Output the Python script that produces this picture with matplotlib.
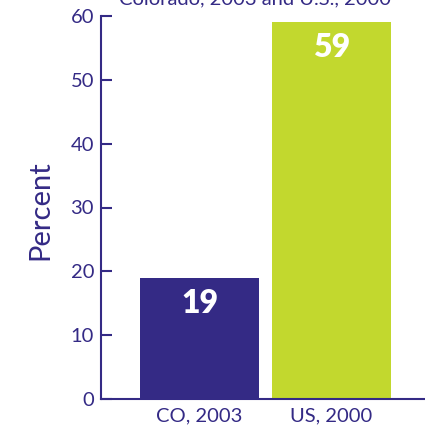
import matplotlib.pyplot as plt

# values
categories = ["CO, 2003", "US, 2000"]
percent = [19, 59]
bar_colors = ["#342a85", "#c2d82e"]
yticks = [0, 10, 20, 30, 40, 50, 60]

ink = "#342a85"
plt.rcParams["font.family"] = ["Lato", "DejaVu Sans"]

fig = plt.figure(figsize=(4.25, 4.28), dpi=100)
ax = fig.add_axes([101 / 425, 29 / 428, 1 - 101 / 425, (399 - 16) / 428])

pos = list(range(len(categories)))
ax.bar(pos, percent, width=0.9, color=bar_colors)
for x, v in zip(pos, percent):
    ax.text(x, v - 4, str(v), ha="center", va="center", color="white",
            fontsize=23, fontweight="heavy")

ax.set_xlim(-0.746, 1.708)
ax.set_ylim(0, 60)
ax.set_yticks(yticks)
ax.set_xticks(pos)
ax.set_xticklabels(categories)
ax.tick_params(axis="y", direction="in", length=8, width=1.5, colors=ink,
               labelsize=14.5, pad=5)
ax.tick_params(axis="x", length=0, colors=ink, labelsize=14.5, pad=6)

for side in ["top", "right"]:
    ax.spines[side].set_visible(False)
for side in ["left", "bottom"]:
    ax.spines[side].set_color(ink)
    ax.spines[side].set_linewidth(1.5)

fig.text(40 / 425, 1 - 210 / 428, "Percent", rotation=90, ha="center",
         va="center", color=ink, fontsize=21)
fig.text(255 / 425, 1 - 4 / 428, "Colorado, 2003 and U.S., 2000", ha="center",
         va="baseline", color=ink, fontsize=14.5)

fig.savefig("out.png", dpi=100)
